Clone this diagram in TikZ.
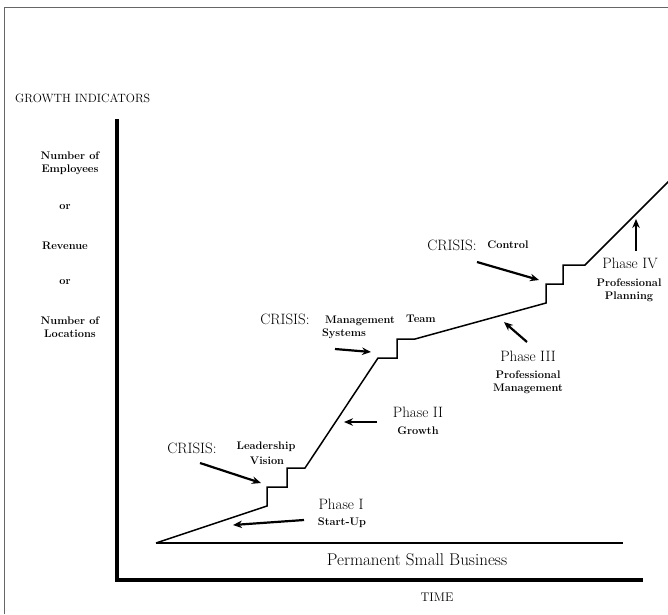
\documentclass[tikz,border=0pt]{standalone}
\usetikzlibrary{arrows.meta}
\begin{document}
\begin{tikzpicture}[x=1pt, y=-1pt,
    big/.style={font=\fontsize{15}{18}\selectfont, inner sep=0pt},
    small/.style={font=\fontsize{11}{13}\selectfont\bfseries, inner sep=0pt},
    pointer/.style={-{Stealth[length=9pt,width=7.5pt]}, line width=2.2pt},
    axis/.style={line width=3.5pt}]
    \clip (0,0) rectangle (668,614);
    %frame
    \draw[black!60, line width=1pt] (4,614) -- (4,7) -- (668,7);
    %axes
    \coordinate (O) at (117,580);
    \coordinate (Ytop) at (117,119);
    \coordinate (Xend) at (643,580);
    \draw[axis] (Ytop) -- (O) -- (Xend);
    \node[font=\fontsize{12}{14}\selectfont, anchor=west, inner sep=0pt] at (15,98) (gi){GROWTH INDICATORS};
    \node[small, align=center] at (70,163) (emp){Number of\\Employees};
    \node[small] at (65,207) (or1){or};
    \node[small] at (65,246) (rev){Revenue};
    \node[small] at (65,282) (or2){or};
    \node[small, align=center] at (70,327) (loc){Number of\\Locations};
    \node[font=\fontsize{12.5}{15}\selectfont, inner sep=0pt] at (437,597) (time){TIME};
    %permanent small business
    \coordinate (psbA) at (156,543);
    \coordinate (psbB) at (623,543);
    \draw[line width=1.5pt] (psbA) -- (psbB);
    \node[font=\fontsize{17}{20}\selectfont, inner sep=0pt] at (417,560) (psb){Permanent Small Business};
    %growth curve
    \draw[line width=1.5pt, line join=miter] (psbA) -- (267,506) -- (267,487) -- (287,487) -- (287,468)
      -- (305,468) -- (378,358) -- (397,358) -- (397,339) -- (415,339) -- (546,303)
      -- (546,284) -- (563,284) -- (563,265) -- (585,265) -- (690,160);
    %phase I
    \node[big] at (341,504) (p1){Phase I};
    \node[small] at (342,523) (p1s){Start-Up};
    \coordinate (p1a) at (304,520);
    \coordinate (p1b) at (233,525);
    \draw[pointer] (p1a) -- (p1b);
    %crisis leadership
    \node[big] at (192,448) (c1){CRISIS:};
    \node[small] at (266,447) (c1s){Leadership};
    \node[small] at (267,461) (c1t){Vision};
    \coordinate (c1a) at (200,463);
    \coordinate (c1b) at (261,483);
    \draw[pointer] (c1a) -- (c1b);
    %phase II
    \node[big] at (418,412) (p2){Phase II};
    \node[small] at (418,431) (p2s){Growth};
    \coordinate (p2a) at (377,422);
    \coordinate (p2b) at (344,422);
    \draw[pointer] (p2a) -- (p2b);
    %crisis management
    \node[big] at (285,319) (c2){CRISIS:};
    \node[small] at (360,321) (c2s){Management};
    \node[small] at (421,319) (c2t){Team};
    \node[small] at (344,334) (c2u){Systems};
    \coordinate (c2a) at (335,349);
    \coordinate (c2b) at (371,352);
    \draw[pointer] (c2a) -- (c2b);
    %crisis control
    \node[big] at (452,245) (c3){CRISIS:};
    \node[small] at (508,245) (c3s){Control};
    \coordinate (c3a) at (477,262);
    \coordinate (c3b) at (539,280);
    \draw[pointer] (c3a) -- (c3b);
    %phase III
    \node[big] at (528,356) (p3){Phase III};
    \node[small, align=center] at (528,382) (p3s){Professional\\Management};
    \coordinate (p3a) at (527,342);
    \coordinate (p3b) at (504,322);
    \draw[pointer] (p3a) -- (p3b);
    %phase IV
    \node[big] at (630,263) (p4){Phase IV};
    \node[small, align=center] at (629,290) (p4s){Professional\\Planning};
    \coordinate (p4a) at (636,251);
    \coordinate (p4b) at (636,219);
    \draw[pointer] (p4a) -- (p4b);
\end{tikzpicture}
\end{document}
